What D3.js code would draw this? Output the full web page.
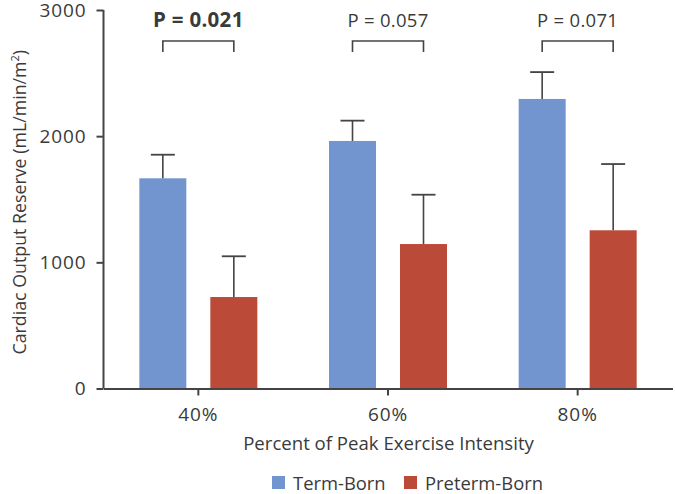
<!DOCTYPE html>
<html>
<head>
<meta charset="utf-8">
<script src="https://cdn.jsdelivr.net/npm/d3@7"></script>
<style>
  html, body { margin: 0; padding: 0; background: #fff; }
  svg { display: block; }
  text { font-family: "Open Sans", sans-serif; fill: #3a3a3a; }
</style>
</head>
<body>
<svg id="chart" width="675" height="494"></svg>
<script>
const categories = ["40%", "60%", "80%"];
const seriesNames = ["Term-Born", "Preterm-Born"];
const termBorn = [1666, 1962, 2295];
const termBornErr = [1853, 2123, 2508];
const pretermBorn = [725, 1145, 1254];
const pretermBornErr = [1048, 1536, 1779];
const pValues = ["P = 0.021", "P = 0.057", "P = 0.071"];
const pBold = [true, false, false];
const yTicks = [0, 1000, 2000, 3000];
const colors = ["#7295d0", "#bb4a38"];

const svg = d3.select("#chart");
const axisColor = "#444";

const x0 = d3.scaleBand().domain(categories).range([103.5, 672.5]).paddingInner(0).paddingOuter(0);
const x1 = d3.scaleBand().domain(seriesNames)
  .range([(x0.bandwidth() - 118) / 2, (x0.bandwidth() + 118) / 2]).paddingInner(0.338);
const y = d3.scaleLinear().domain([0, 3000]).range([388.5, 10]);

const data = categories.map((c, i) => ({
  cat: c,
  vals: [
    { s: seriesNames[0], v: termBorn[i], e: termBornErr[i], c: colors[0] },
    { s: seriesNames[1], v: pretermBorn[i], e: pretermBornErr[i], c: colors[1] }
  ]
}));

// bars
const groups = svg.append("g").selectAll("g").data(data).join("g")
  .attr("transform", d => `translate(${x0(d.cat)},0)`);
groups.selectAll("rect").data(d => d.vals).join("rect")
  .attr("x", d => x1(d.s))
  .attr("width", x1.bandwidth())
  .attr("y", d => y(d.v))
  .attr("height", d => y(0) - y(d.v))
  .attr("fill", d => d.c);

// error bars
const eb = groups.selectAll("g.err").data(d => d.vals).join("g").attr("class", "err");
eb.append("line")
  .attr("x1", d => x1(d.s) + x1.bandwidth() / 2)
  .attr("x2", d => x1(d.s) + x1.bandwidth() / 2)
  .attr("y1", d => y(d.v))
  .attr("y2", d => y(d.e))
  .attr("stroke", axisColor).attr("stroke-width", 1.6);
eb.append("line")
  .attr("x1", d => x1(d.s) + x1.bandwidth() / 2 - 12)
  .attr("x2", d => x1(d.s) + x1.bandwidth() / 2 + 12)
  .attr("y1", d => y(d.e))
  .attr("y2", d => y(d.e))
  .attr("stroke", axisColor).attr("stroke-width", 1.8);

// y axis
const yAxis = svg.append("g")
  .attr("transform", "translate(103.5,0)")
  .call(d3.axisLeft(y).tickValues(yTicks).tickSize(7).tickPadding(10).tickFormat(d3.format("d")));
yAxis.select(".domain").attr("stroke", axisColor).attr("stroke-width", 2).attr("d", `M0,${y(3000)}V${y(0)}`);
yAxis.selectAll(".tick line").attr("stroke", axisColor).attr("stroke-width", 2);
yAxis.selectAll(".tick text").style("font-size", "19px").style("letter-spacing", "0.9px")
  .style("fill", "#3a3a3a").attr("font-family", null);

// x axis
const xAxis = svg.append("g")
  .attr("transform", `translate(0,${y(0)})`)
  .call(d3.axisBottom(x0).tickSize(7).tickPadding(12).tickSizeOuter(0));
xAxis.select(".domain").attr("stroke", axisColor).attr("stroke-width", 2);
xAxis.selectAll(".tick line").attr("stroke", axisColor).attr("stroke-width", 2);
xAxis.selectAll(".tick text").style("font-size", "19px").style("letter-spacing", "0.9px")
  .style("fill", "#3a3a3a").attr("font-family", null);

// axis titles
svg.append("text")
  .attr("transform", `translate(26,${(y(0) + y(3000)) / 2 + 3}) rotate(-90)`)
  .attr("text-anchor", "middle")
  .style("font-size", "17.8px")
  .html("Cardiac Output Reserve (mL/min/m<tspan dy='-7' style='font-size:11px'>2</tspan><tspan dy='7'>)</tspan>");

svg.append("text")
  .attr("x", 388.5)
  .attr("y", 450)
  .attr("text-anchor", "middle")
  .style("font-size", "18.6px")
  .text("Percent of Peak Exercise Intensity");

// p-value brackets
categories.forEach((c, i) => {
  const xa = x0(c) + x1(seriesNames[0]) + x1.bandwidth() / 2;
  const xb = x0(c) + x1(seriesNames[1]) + x1.bandwidth() / 2;
  svg.append("path")
    .attr("d", `M${xa},52V41H${xb}V52`)
    .attr("fill", "none").attr("stroke", axisColor).attr("stroke-width", 1.6);
  svg.append("text")
    .attr("x", (xa + xb) / 2)
    .attr("y", 27)
    .attr("text-anchor", "middle")
    .style("font-size", pBold[i] ? "20.5px" : "18.5px")
    .style("letter-spacing", "0.3px")
    .style("font-weight", pBold[i] ? "700" : "400")
    .text(pValues[i]);
});

// legend
const legendItems = [
  { name: seriesNames[0], color: colors[0], x: 272 },
  { name: seriesNames[1], color: colors[1], x: 404 }
];
const lg = svg.append("g").selectAll("g").data(legendItems).join("g")
  .attr("transform", d => `translate(${d.x},476)`);
lg.append("rect").attr("width", 13).attr("height", 13).attr("fill", d => d.color);
lg.append("text").attr("x", 21).attr("y", 13.5).style("font-size", "18.4px").text(d => d.name);
</script>
</body>
</html>
